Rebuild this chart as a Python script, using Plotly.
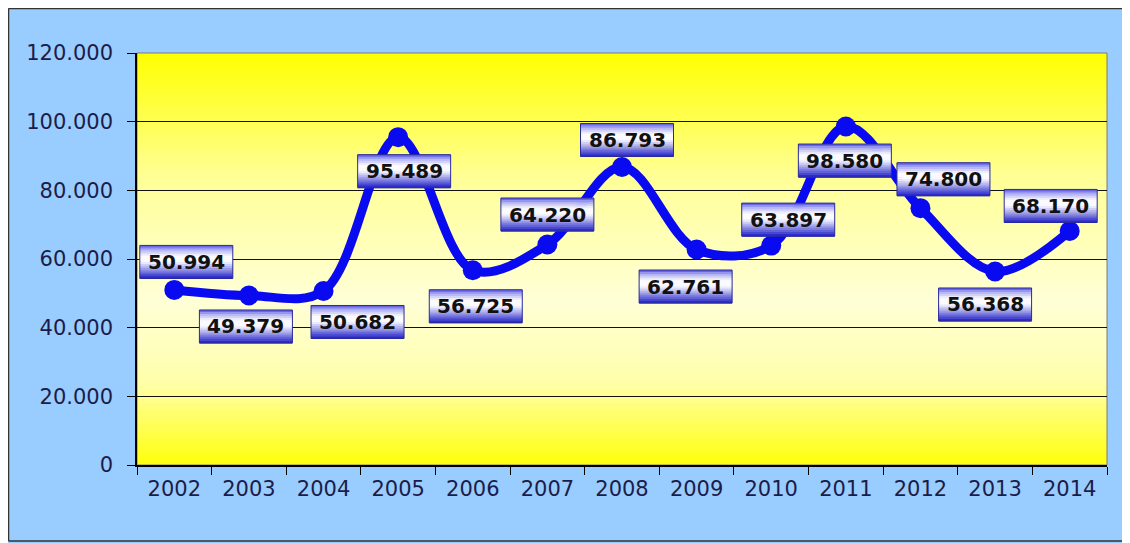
import plotly.graph_objects as go

years = ["2002", "2003", "2004", "2005", "2006", "2007", "2008",
         "2009", "2010", "2011", "2012", "2013", "2014"]
values = [50994, 49379, 50682, 95489, 56725, 64220, 86793,
          62761, 63897, 98580, 74800, 56368, 68170]
label_texts = ["50.994", "49.379", "50.682", "95.489", "56.725", "64.220", "86.793",
               "62.761", "63.897", "98.580", "74.800", "56.368", "68.170"]

# label box offsets (pixels, screen: +x right, +y down) relative to the point
label_offsets = [(12, -28), (-3, 31), (34, 31), (6, 34), (3, 36), (0, -30), (5, -27),
                 (-11, 37), (17, -26), (-1, 34), (23, -29), (-10, 33), (-19, -25)]

# page body has an 8px margin, so the figure is drawn from (8, 8)
W, H = 1122, 535
ML, MR, MT, MB = 129, 23, 45, 78
PW, PH = W - ML - MR, H - MT - MB

def mix(c1, c2, t):
    return tuple(round(a + (b - a) * t) for a, b in zip(c1, c2))

def interp(stops, t):
    for (t0, c0), (t1, c1) in zip(stops, stops[1:]):
        if t0 <= t <= t1:
            return mix(c0, c1, (t - t0) / (t1 - t0) if t1 > t0 else 0)
    return stops[-1][1]

def rgb(c):
    return "rgb(%d,%d,%d)" % c

shapes = []

# plot-area yellow gradient (top -> bottom)
bg_stops = [(0.0, (255, 255, 0)), (0.3, (255, 255, 150)), (0.6, (255, 255, 215)),
            (0.8, (255, 255, 170)), (1.0, (255, 255, 10))]
N = 60
for k in range(N):
    t = (k + 0.5) / N
    shapes.append(dict(type="rect", xref="x domain", yref="y domain",
                       x0=0, x1=1, y0=1 - k / N, y1=1 - (k + 1) / N - 0.002,
                       fillcolor=rgb(interp(bg_stops, t)), line=dict(width=0),
                       layer="below"))

# plot-area thin gray frame
shapes.append(dict(type="rect", xref="x domain", yref="y domain", x0=0, x1=1, y0=0, y1=1,
                   line=dict(color="#7a7a7a", width=1), layer="below"))

# outer chart border (top, left, bottom)
px = lambda p: (p - ML) / PW
py = lambda p: (H - MB - p) / PH
for (x0, y0, x1, y1) in [(0.5, 0.5, W + 5, 0.5), (0.5, 0.5, 0.5, 533), (0.5, 533, W + 5, 533)]:
    shapes.append(dict(type="line", xref="paper", yref="paper",
                       x0=px(x0), y0=py(y0), x1=px(x1), y1=py(y1),
                       line=dict(color="#333333", width=1.5)))

# label boxes with vertical blue-white-blue gradient
box_stops = [(0.0, (80, 80, 225)), (0.12, (170, 170, 245)), (0.32, (252, 252, 255)),
             (0.5, (248, 248, 255)), (1.0, (30, 30, 200))]
BW, BH, NB = 93, 33, 16
annotations = []
for i, (v, txt, (dx, dy)) in enumerate(zip(values, label_texts, label_offsets)):
    top = -dy + BH / 2
    for k in range(NB):
        t = (k + 0.5) / NB
        shapes.append(dict(type="rect", xref="x", yref="y", xsizemode="pixel",
                           ysizemode="pixel", xanchor=i, yanchor=v,
                           x0=dx - BW / 2, x1=dx + BW / 2,
                           y0=top - k * BH / NB, y1=top - (k + 1) * BH / NB - 0.6,
                           fillcolor=rgb(interp(box_stops, t)), line=dict(width=0),
                           layer="above"))
    shapes.append(dict(type="rect", xref="x", yref="y", xsizemode="pixel",
                       ysizemode="pixel", xanchor=i, yanchor=v,
                       x0=dx - BW / 2, x1=dx + BW / 2, y0=top, y1=top - BH,
                       line=dict(color="#2a2a9a", width=1), layer="above"))
    annotations.append(dict(x=i, y=v, xref="x", yref="y", text="<b>%s</b>" % txt,
                            showarrow=False, xshift=dx, yshift=-dy,
                            font=dict(family="DejaVu Sans", size=20, color="#111111")))

fig = go.Figure()
fig.add_trace(go.Scatter(
    x=years, y=values, mode="lines+markers",
    line=dict(color="#0a0af0", width=9, shape="spline", smoothing=1.0),
    marker=dict(color="#0a0af0", size=20),
    hoverinfo="skip", showlegend=False))

tick_font = dict(family="DejaVu Sans", size=21, color="#1c1c4a")
fig.update_layout(
    width=W, height=H,
    margin=dict(l=ML, r=MR, t=MT, b=MB),
    paper_bgcolor="#99ccff",
    plot_bgcolor="#ffffc8",
    separators=",.",
    shapes=shapes,
    annotations=annotations,
    showlegend=False,
    xaxis=dict(type="category", tickson="boundaries", ticks="outside", ticklen=8,
               tickcolor="#000000", showline=True, linecolor="#000000", linewidth=1.5,
               showgrid=False, tickfont=tick_font, ticklabelstandoff=4,
               range=[-0.5, len(years) - 0.5], autorange=False),
    yaxis=dict(range=[0, 120000], dtick=20000, tickformat=",.0f", ticks="outside",
               ticklen=8, tickcolor="#000000", showline=True, linecolor="#000000",
               linewidth=1.5, showgrid=True, gridcolor="#111111", gridwidth=1,
               zeroline=False, tickfont=tick_font, ticklabelstandoff=10,
               autorange=False),
)

fig.write_html("out.html")
